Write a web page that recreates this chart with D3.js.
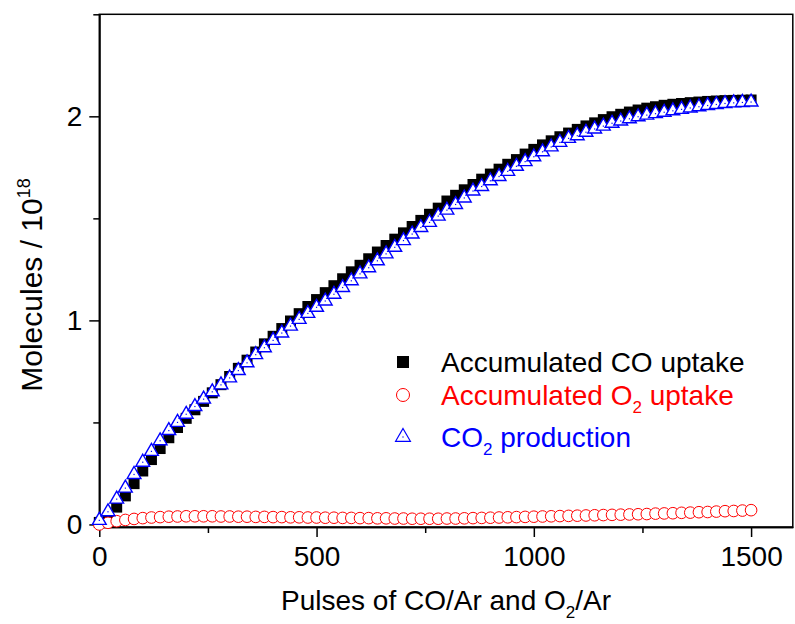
<!DOCTYPE html>
<html>
<head>
<meta charset="utf-8">
<script src="https://cdn.jsdelivr.net/npm/d3@7"></script>
<style>
  body { margin: 0; background: #fff; }
  text { font-family: "Liberation Sans", Arial, sans-serif; }
</style>
</head>
<body>
<div id="chart"></div>
<script>
// pulse numbers (every 20 pulses)
var pulses = d3.range(0, 1501, 20);

// accumulated CO uptake (x 10^18 molecules)
var coUptake = [0.01, 0.03, 0.085, 0.14, 0.2, 0.262, 0.318, 0.372, 0.425, 0.475,
  0.52, 0.562, 0.603, 0.645, 0.685, 0.725, 0.765, 0.805, 0.845, 0.885,
  0.922, 0.96, 0.997, 1.033, 1.068, 1.102, 1.136, 1.17, 1.204, 1.238,
  1.27, 1.302, 1.335, 1.367, 1.398, 1.429, 1.46, 1.49, 1.52, 1.55,
  1.585, 1.613, 1.64, 1.666, 1.692, 1.717, 1.741, 1.765, 1.788, 1.815,
  1.838, 1.86, 1.88, 1.9, 1.918, 1.936, 1.953, 1.968, 1.984, 1.998,
  2.01, 2.021, 2.031, 2.04, 2.047, 2.054, 2.059, 2.063, 2.067, 2.07,
  2.073, 2.075, 2.077, 2.078, 2.079, 2.08];

// accumulated O2 uptake
var o2Uptake = [0.0, 0.008, 0.016, 0.022, 0.027, 0.031, 0.034, 0.036, 0.038, 0.039,
  0.04, 0.04, 0.04, 0.04, 0.039, 0.039, 0.038, 0.038, 0.037, 0.037,
  0.036, 0.036, 0.035, 0.035, 0.034, 0.034, 0.033, 0.033, 0.032, 0.032,
  0.031, 0.031, 0.03, 0.03, 0.029, 0.029, 0.028, 0.028, 0.028, 0.028,
  0.029, 0.029, 0.03, 0.031, 0.032, 0.033, 0.034, 0.035, 0.036, 0.037,
  0.038, 0.039, 0.04, 0.041, 0.042, 0.043, 0.044, 0.045, 0.046, 0.047,
  0.048, 0.049, 0.05, 0.051, 0.053, 0.054, 0.055, 0.057, 0.058, 0.06,
  0.061, 0.063, 0.065, 0.066, 0.068, 0.07];

// CO2 production
var co2Prod = [0.02, 0.062, 0.124, 0.178, 0.245, 0.305, 0.358, 0.41, 0.46, 0.5,
  0.54, 0.578, 0.614, 0.65, 0.684, 0.718, 0.754, 0.792, 0.832, 0.866,
  0.902, 0.938, 0.972, 1.005, 1.034, 1.064, 1.095, 1.128, 1.161, 1.194,
  1.228, 1.258, 1.292, 1.326, 1.358, 1.391, 1.423, 1.455, 1.48, 1.511,
  1.54, 1.568, 1.6, 1.634, 1.656, 1.684, 1.705, 1.73, 1.755, 1.778,
  1.802, 1.826, 1.85, 1.872, 1.892, 1.905, 1.922, 1.938, 1.952, 1.966,
  1.977, 1.988, 1.998, 2.006, 2.013, 2.02, 2.027, 2.034, 2.041, 2.047,
  2.053, 2.058, 2.063, 2.066, 2.068, 2.07];

var xMajor = [0, 500, 1000, 1500],
    xMinor = [250, 750, 1250],
    yMajor = [0, 1, 2],
    yMinor = [0.5, 1.5, 2.5];

var W = 795, H = 624;
var plotLeft = 99.3, plotRight = 792.8, plotTop = 14.3, plotBottom = 527;

var svg = d3.select("#chart")
  .append("svg")
    .attr("width", W)
    .attr("height", H);

var x = d3.scaleLinear().domain([0, 1596]).range([plotLeft, plotRight]);
var y = d3.scaleLinear().domain([-0.0125, 2.5]).range([plotBottom, plotTop]);

// minor ticks
svg.append("g")
  .attr("transform", "translate(0," + plotBottom + ")")
  .call(d3.axisBottom(x).tickValues(xMinor).tickSize(6).tickSizeOuter(0).tickFormat(""));
svg.append("g")
  .attr("transform", "translate(" + plotLeft + ",0)")
  .call(d3.axisLeft(y).tickValues(yMinor).tickSize(6).tickSizeOuter(0).tickFormat(""));

// major ticks
svg.append("g")
  .attr("transform", "translate(0," + plotBottom + ")")
  .call(d3.axisBottom(x).tickValues(xMajor).tickSize(10).tickSizeOuter(0).tickPadding(9).tickFormat(d3.format("d")))
  .selectAll("text").style("font-size", "28px");
svg.append("g")
  .attr("transform", "translate(" + plotLeft + ",0)")
  .call(d3.axisLeft(y).tickValues(yMajor).tickSize(10).tickSizeOuter(0).tickPadding(7).tickFormat(d3.format("d")))
  .selectAll("text").style("font-size", "28px");

svg.selectAll(".tick line").attr("stroke", "#000").attr("stroke-width", 1.5);
svg.selectAll(".domain").attr("stroke", "#000").attr("stroke-width", 1.5);
svg.selectAll(".tick text").attr("fill", "#000");

// frame
svg.append("rect")
  .attr("x", plotLeft).attr("y", plotTop)
  .attr("width", plotRight - plotLeft).attr("height", plotBottom - plotTop)
  .attr("fill", "none").attr("stroke", "#000").attr("stroke-width", 1.5);

var sq = d3.symbol().type(d3.symbolSquare).size(121);
var circ = d3.symbol().type(d3.symbolCircle).size(106);
var tri = d3.symbol().type(d3.symbolTriangle).size(82);

// CO uptake squares
svg.append("g").selectAll("path")
  .data(pulses)
  .enter().append("path")
    .attr("d", sq)
    .attr("transform", function(d, i) { return "translate(" + x(d) + "," + y(coUptake[i]) + ")"; })
    .attr("fill", "#000");

// O2 uptake circles
svg.append("g").selectAll("path")
  .data(pulses)
  .enter().append("path")
    .attr("d", circ)
    .attr("transform", function(d, i) { return "translate(" + x(d) + "," + y(o2Uptake[i]) + ")"; })
    .attr("fill", "#fff").attr("stroke", "#ff0000").attr("stroke-width", 1);

// CO2 production triangles
var triG = svg.append("g").selectAll("g")
  .data(pulses)
  .enter().append("g")
    .attr("transform", function(d, i) { return "translate(" + x(d) + "," + y(co2Prod[i]) + ")"; });
triG.append("path")
  .attr("d", tri)
  .attr("fill", "#fff").attr("stroke", "#0000ff").attr("stroke-width", 1.4);
triG.append("rect")
  .attr("x", -0.6).attr("y", -0.6).attr("width", 1.2).attr("height", 1.2)
  .attr("fill", "#0000ff");

// axis titles
var xt = svg.append("text")
  .attr("x", (plotLeft + plotRight) / 2)
  .attr("y", 610)
  .attr("text-anchor", "middle")
  .style("font-size", "28px");
xt.append("tspan").text("Pulses of CO/Ar and O");
xt.append("tspan").attr("dy", 8).style("font-size", "17px").text("2");
xt.append("tspan").attr("dy", -8).text("/Ar");

var yt = svg.append("text")
  .attr("transform", "translate(42,285) rotate(-90)")
  .attr("text-anchor", "middle")
  .style("font-size", "30px");
yt.append("tspan").text("Molecules / 10");
yt.append("tspan").attr("dy", -12).style("font-size", "18px").text("18");

// legend
var legendRows = [362, 395, 437];
svg.append("path").attr("d", d3.symbol().type(d3.symbolSquare).size(144))
  .attr("transform", "translate(403," + legendRows[0] + ")").attr("fill", "#000");
svg.append("path").attr("d", d3.symbol().type(d3.symbolCircle).size(133))
  .attr("transform", "translate(403," + legendRows[1] + ")")
  .attr("fill", "#fff").attr("stroke", "#ff0000").attr("stroke-width", 1);
svg.append("path").attr("d", d3.symbol().type(d3.symbolTriangle).size(95))
  .attr("transform", "translate(403," + legendRows[2] + ")")
  .attr("fill", "#fff").attr("stroke", "#0000ff").attr("stroke-width", 1.2);
svg.append("rect").attr("x", 402.4).attr("y", legendRows[2] - 0.6)
  .attr("width", 1.2).attr("height", 1.2).attr("fill", "#0000ff");

svg.append("text").attr("x", 441).attr("y", legendRows[0] + 10)
  .style("font-size", "28px").attr("fill", "#000").text("Accumulated CO uptake");

var l2 = svg.append("text").attr("x", 441).attr("y", legendRows[1] + 10)
  .style("font-size", "28px").attr("fill", "#ff0000");
l2.append("tspan").text("Accumulated O");
l2.append("tspan").attr("dy", 8).style("font-size", "17px").text("2");
l2.append("tspan").attr("dy", -8).text(" uptake");

var l3 = svg.append("text").attr("x", 441).attr("y", legendRows[2] + 10)
  .style("font-size", "28px").attr("fill", "#0000ff");
l3.append("tspan").text("CO");
l3.append("tspan").attr("dy", 8).style("font-size", "17px").text("2");
l3.append("tspan").attr("dy", -8).text(" production");
</script>
</body>
</html>
